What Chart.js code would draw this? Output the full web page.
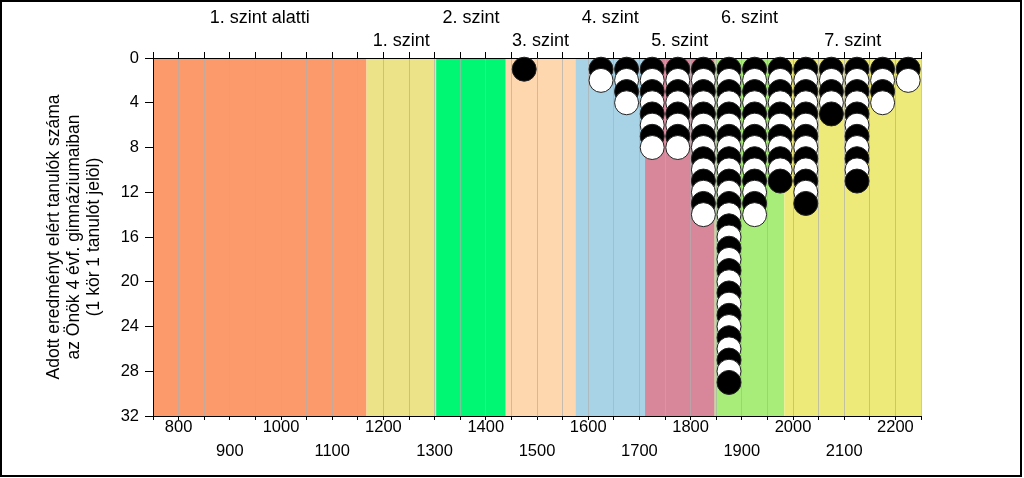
<!DOCTYPE html>
<html>
<head>
<meta charset="utf-8">
<script src="https://cdn.jsdelivr.net/npm/chart.js@4.4.1/dist/chart.umd.min.js"></script>
<style>
  html, body { margin: 0; padding: 0; background: #fff; }
  #wrap { position: relative; width: 1024px; height: 478px; }
  #frame { position: absolute; left: 0; top: 0; width: 1022px; height: 477px;
           box-sizing: border-box; border: 2px solid #000; pointer-events: none; }
</style>
</head>
<body>
<div id="wrap">
  <canvas id="pontChart" width="1024" height="478"></canvas>
  <div id="frame"></div>
</div>
<script>
// pontszam-savok (kozeppontok) es a tanulok szama savonkent
const pontSavok = [1475, 1625, 1675, 1725, 1775, 1825, 1875, 1925, 1975, 2025, 2075, 2125, 2175, 2225];
const tanulokSzama = [1, 2, 4, 8, 8, 14, 29, 14, 11, 13, 5, 11, 4, 2];

// kepessegszintek
const szintNevek = ['1. szint alatti', '1. szint', '2. szint', '3. szint', '4. szint', '5. szint', '6. szint', '7. szint'];
const szintHatarok = [750, 1167, 1303, 1439, 1575, 1711, 1847, 1983, 2250];
const szintSzinek = ['#FD9A6C', '#ECE287', '#00F774', '#FFD7AE', '#A8D3E6', '#D8879A', '#A8ED7A', '#EEEA7A'];

const yTengelyCim = ['Adott eredményt elért tanulók száma', 'az Önök 4 évf. gimnáziumaiban', '(1 kör 1 tanulót jelöl)'];

const BETU = '"Liberation Sans", Arial, sans-serif';

const szintKozepek = szintNevek.map((_, i) => (szintHatarok[i] + szintHatarok[i + 1]) / 2);

// egy kor = egy tanulo, oszloponkent egymasra rakva
const pontok = [];
const korSzinek = [];
pontSavok.forEach((sav, i) => {
    for (let n = 1; n <= tanulokSzama[i]; n++) {
        pontok.push({ x: sav, y: n });
        korSzinek.push(n % 2 === 1 ? '#000000' : '#ffffff');
    }
});

const szintSavokPlugin = {
    id: 'szintSavok',
    beforeDraw(chart) {
        const { ctx, chartArea } = chart;
        const x = chart.scales.x;
        ctx.save();
        for (let i = 0; i < szintNevek.length; i++) {
            const x0 = x.getPixelForValue(szintHatarok[i]);
            const x1 = x.getPixelForValue(szintHatarok[i + 1]);
            ctx.fillStyle = szintSzinek[i];
            ctx.fillRect(x0, chartArea.top, x1 - x0, chartArea.bottom - chartArea.top);
        }
        ctx.restore();
    }
};

const felsoTickek = () => {
    const ertekek = [];
    for (let v = 750; v <= 2250; v += 50) ertekek.push(v);
    return ertekek.concat(szintKozepek).sort((a, b) => a - b);
};

const ctx = document.getElementById('pontChart').getContext('2d');
new Chart(ctx, {
    type: 'scatter',
    data: {
        datasets: [{
            data: pontok,
            pointRadius: 12,
            pointHoverRadius: 12,
            pointBackgroundColor: korSzinek,
            pointBorderColor: '#222',
            pointBorderWidth: 1,
            showLine: false,
            clip: false
        }]
    },
    plugins: [szintSavokPlugin],
    options: {
        responsive: false,
        animation: false,
        events: [],
        layout: { padding: { left: 0, right: 103, top: 0, bottom: 0 } },
        plugins: {
            legend: { display: false },
            tooltip: { enabled: false }
        },
        scales: {
            x: {
                type: 'linear',
                position: 'bottom',
                min: 750,
                max: 2250,
                ticks: {
                    stepSize: 50,
                    autoSkip: false,
                    maxRotation: 0,
                    padding: -4,
                    color: '#000',
                    font: { family: BETU, size: 16.5, lineHeight: 1.44 },
                    callback: v => {
                        if (v % 100 !== 0) return '';
                        return (v / 100) % 2 === 0 ? [String(v), ''] : ['', String(v)];
                    }
                },
                grid: {
                    color: 'rgba(175,175,175,0.7)',
                    tickColor: '#000',
                    tickLength: 4,
                    drawOnChartArea: true
                },
                border: { color: '#000', width: 1 },
                afterFit: s => { s.height = 62; }
            },
            xt: {
                type: 'linear',
                position: 'top',
                min: 750,
                max: 2250,
                afterBuildTicks: axis => {
                    axis.ticks = felsoTickek().map(v => ({ value: v }));
                },
                ticks: {
                    autoSkip: false,
                    maxRotation: 0,
                    padding: -1,
                    color: '#000',
                    font: { family: BETU, size: 18, lineHeight: 1.305 },
                    callback: v => {
                        const i = szintKozepek.indexOf(v);
                        if (i < 0) return '';
                        return i % 2 === 0 ? [szintNevek[i], ''] : ['', szintNevek[i]];
                    }
                },
                grid: {
                    drawOnChartArea: false,
                    tickLength: 6,
                    color: '#000',
                    tickColor: c => (c.tick && szintKozepek.includes(c.tick.value)) ? 'rgba(0,0,0,0)' : '#000'
                },
                border: { color: '#000', width: 1 },
                afterFit: s => { s.height = 58; }
            },
            y: {
                type: 'linear',
                reverse: true,
                min: 0,
                max: 32,
                ticks: {
                    stepSize: 4,
                    padding: 6,
                    color: '#000',
                    font: { family: BETU, size: 16.5 }
                },
                grid: {
                    drawOnChartArea: false,
                    tickLength: 8,
                    tickColor: '#000'
                },
                border: { color: '#000', width: 1 },
                title: {
                    display: true,
                    text: yTengelyCim,
                    color: '#000',
                    font: { family: BETU, size: 17.5, lineHeight: 1.15 },
                    padding: { top: 44, bottom: 0 }
                },
                afterFit: s => { s.width = 153; }
            }
        }
    }
});
</script>
</body>
</html>
